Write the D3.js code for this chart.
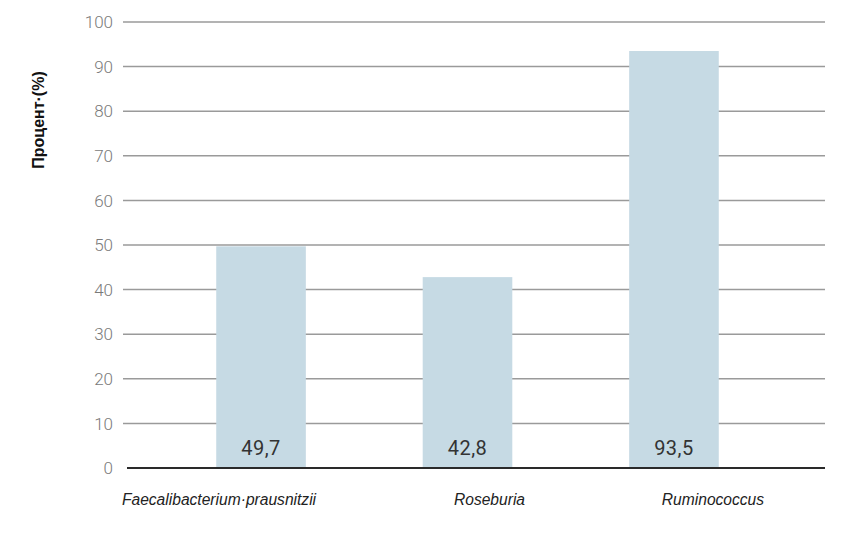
<!DOCTYPE html>
<html>
<head>
<meta charset="utf-8">
<script src="https://cdn.jsdelivr.net/npm/d3@7"></script>
<style>
  html, body { margin: 0; padding: 0; background: #fff; }
  svg { display: block; }
</style>
</head>
<body>
<script>
const categories = ["Faecalibacterium·prausnitzii", "Roseburia", "Ruminococcus"];
const values = [49.7, 42.8, 93.5];
const valueLabels = ["49,7", "42,8", "93,5"];
const yTicks = [0, 10, 20, 30, 40, 50, 60, 70, 80, 90, 100];
const yTitle = "Процент·(%)";

const W = 857, H = 534;
const svg = d3.select("body").append("svg").attr("width", W).attr("height", H);

const y = d3.scaleLinear().domain([0, 100]).range([468, 22]);
const x = d3.scaleBand().domain(categories).range([113, 822]).paddingInner(0.566).paddingOuter(0.5);
const gridX0 = 123, gridX1 = 825;

// gridlines
svg.append("g").selectAll("line").data(yTicks.filter(d => d > 0)).join("line")
  .attr("x1", gridX0).attr("x2", gridX1)
  .attr("y1", d => y(d)).attr("y2", d => y(d))
  .attr("stroke", "#9a9a9a").attr("stroke-width", 1.5);

// tick labels
svg.append("g").selectAll("text").data(yTicks).join("text")
  .attr("x", 113).attr("y", d => y(d)).attr("dy", "0.36em")
  .attr("text-anchor", "end")
  .attr("font-family", "Roboto, sans-serif").attr("font-weight", 300)
  .attr("font-size", 17).attr("fill", "#7a7a7a")
  .text(d => d);

// bars
svg.append("g").selectAll("rect").data(categories).join("rect")
  .attr("x", d => x(d)).attr("width", x.bandwidth())
  .attr("y", (d, i) => y(values[i])).attr("height", (d, i) => y(0) - y(values[i]))
  .attr("fill", "#c6dae4");

// baseline axis
svg.append("line").attr("x1", 127).attr("x2", gridX1)
  .attr("y1", y(0)).attr("y2", y(0))
  .attr("stroke", "#2a2a2a").attr("stroke-width", 2);

// value labels
svg.append("g").selectAll("text").data(categories).join("text")
  .attr("x", d => x(d) + x.bandwidth() / 2).attr("y", y(0) - 13)
  .attr("text-anchor", "middle")
  .attr("font-family", "Roboto, sans-serif").attr("font-size", 20)
  .attr("letter-spacing", 0.5)
  .attr("fill", "#333")
  .text((d, i) => valueLabels[i]);

// category labels
const labelDx = [-42, 22, 39];
svg.append("g").selectAll("text").data(categories).join("text")
  .attr("x", (d, i) => x(d) + x.bandwidth() / 2 + labelDx[i]).attr("y", 505)
  .attr("text-anchor", "middle")
  .attr("font-family", "'Liberation Sans', Arial, sans-serif").attr("font-style", "italic")
  .attr("font-size", 15.6).attr("fill", "#222")
  .text(d => d);

// y title
svg.append("text")
  .attr("transform", "translate(44,120) rotate(-90)")
  .attr("text-anchor", "middle")
  .attr("font-family", "'Liberation Sans', Arial, sans-serif").attr("font-weight", "bold")
  .attr("font-size", 16).attr("fill", "#111")
  .text(yTitle);
</script>
</body>
</html>
